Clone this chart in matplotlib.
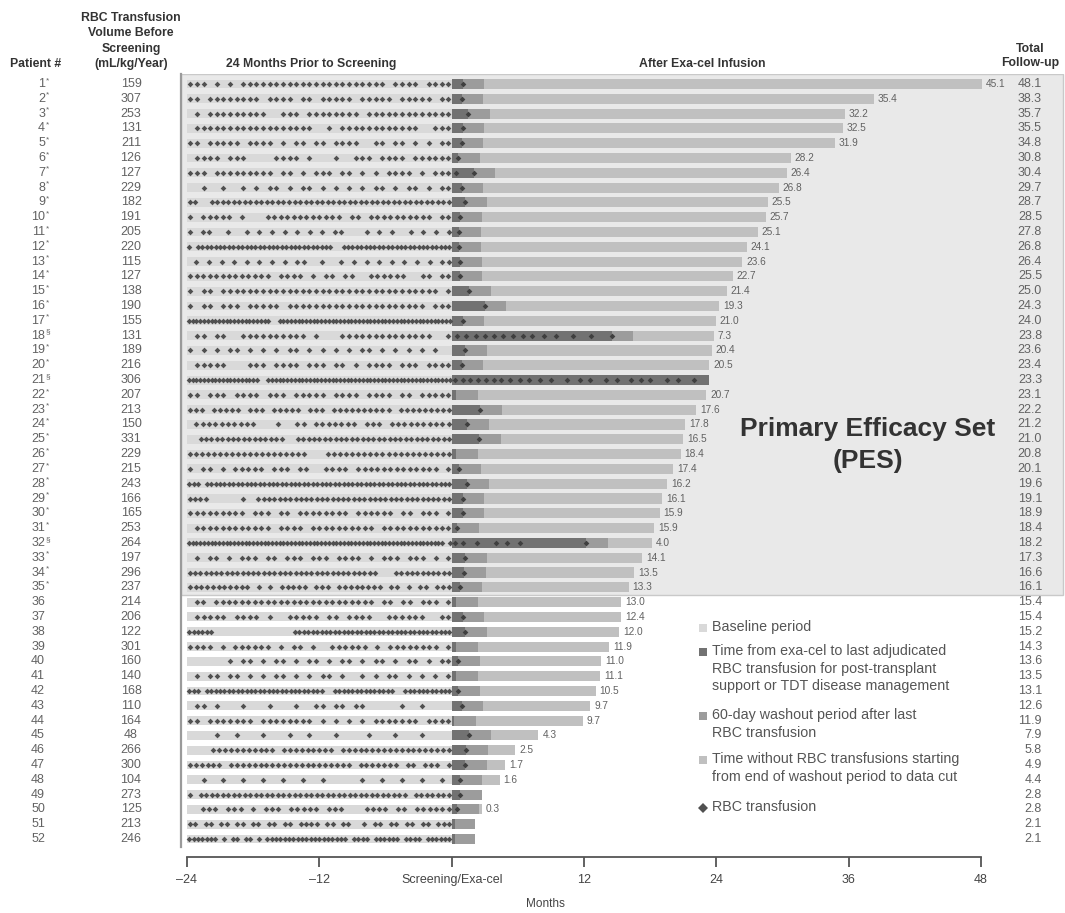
import matplotlib
matplotlib.use("Agg")
import matplotlib.pyplot as plt
from matplotlib import transforms
from matplotlib.lines import Line2D
from matplotlib.patches import Rectangle

plt.rcParams['font.family'] = ['Liberation Sans', 'DejaVu Sans']

# ---------------- data ----------------
patients = list(range(1, 53))
notes = (['*'] * 17 + ['§'] + ['*'] * 2 + ['§'] + ['*'] * 10 + ['§'] + ['*'] * 3 + [''] * 17)

rbc_volume = [159, 307, 253, 131, 211, 126, 127, 229, 182, 191,
              205, 220, 115, 127, 138, 190, 155, 131, 189, 216,
              306, 207, 213, 150, 331, 229, 215, 243, 166, 165,
              253, 264, 197, 296, 237, 214, 206, 122, 301, 160,
              140, 168, 110, 164, 48, 266, 300, 104, 273, 125,
              213, 246]

followup = [48.1, 38.3, 35.7, 35.5, 34.8, 30.8, 30.4, 29.7, 28.7, 28.5,
            27.8, 26.8, 26.4, 25.5, 25.0, 24.3, 24.0, 23.8, 23.6, 23.4,
            23.3, 23.1, 22.2, 21.2, 21.0, 20.8, 20.1, 19.6, 19.1, 18.9,
            18.4, 18.2, 17.3, 16.6, 16.1, 15.4, 15.4, 15.2, 14.3, 13.6,
            13.5, 13.1, 12.6, 11.9, 7.9, 5.8, 4.9, 4.4, 2.8, 2.8,
            2.1, 2.1]

# months without RBC transfusion after washout (label on bar)
free_months = [45.1, 35.4, 32.2, 32.5, 31.9, 28.2, 26.4, 26.8, 25.5, 25.7,
               25.1, 24.1, 23.6, 22.7, 21.4, 19.3, 21.0, 7.3, 20.4, 20.5,
               None, 20.7, 17.6, 17.8, 16.5, 18.4, 17.4, 16.2, 16.1, 15.9,
               15.9, 4.0, 14.1, 13.5, 13.3, 13.0, 12.4, 12.0, 11.9, 11.0,
               11.1, 10.5, 9.7, 9.7, 4.3, 2.5, 1.7, 1.6, None, 0.3,
               None, None]

# months from exa-cel to last adjudicated RBC transfusion
last_rbc = [1.0, 0.9, 1.5, 1.0, 0.9, 0.6, 2.0, 0.9, 1.2, 0.8,
            0.7, 0.7, 0.8, 0.8, 1.6, 3.0, 1.0, 14.5, 1.2, 0.9,
            23.3, 0.4, 2.6, 1.4, 2.5, 0.4, 0.7, 1.4, 1.0, 1.0,
            0.5, 12.2, 1.2, 1.1, 0.8, 0.4, 1.0, 1.2, 0.4, 0.6,
            0.4, 0.6, 0.9, 0.2, 1.6, 1.3, 1.2, 0.8, 0.8, 0.5,
            0.3, 0.3]

WASHOUT = 60 / 30.44  # 60-day washout in months

# post-infusion RBC transfusions (months) for patients with longer support
post_tx = {
    7: [0.4, 2.0],
    18: [0.5, 1.3, 2.2, 3.0, 3.8, 4.7, 5.6, 6.5, 7.3, 8.4, 9.5, 11.0, 12.6, 14.5],
    21: [0.3, 1.0, 1.7, 2.4, 3.1, 3.8, 4.5, 5.3, 6.2, 7.0, 8.0, 9.0, 10.5, 11.6,
         12.5, 14.0, 15.0, 16.3, 17.2, 18.0, 19.5, 20.5, 22.0],
    32: [0.3, 1.0, 2.3, 4.0, 5.0, 6.2, 12.2],
}

# pre-screening transfusion patterns (24 months, '*' = transfusion in slot)
pre_tx = [
    "***.*.*.**********************.****.****",
    "**.********.****.**.*****.*****.*****.**",
    ".*.*********..***.********.*************",
    ".******************..*.************..***",
    "**.*****.****.*.**.**.****..**.**.*.*.**",
    ".****.***....****.*...*..***.****.******",
    "***.*********.**.*.***.**.*.*.****.*.***",
    "..*..*..*.*.**.*.**.*.*.*.*.**.*.**.*.**",
    "**..********************************************",
    "*.*****.*...************.**.**********.**",
    "*.**..*..*.*.*.*.*.*.*.**...*.*.*..*.*.*.*",
    "*.*******************************..*************************",
    ".*.*.*.*.*.*.*.*.**..*..*.*.*.*.*.*.*.*.**",
    "*************.****.*.**.**..******..**.**",
    "*.**.*********************************.*",
    "*.**.***.*****.*********************.***",
    "**********************..**********************************************",
    ".**.**..**********.*...**************..*",
    "*.*.*.**.*.*.*.**.*.*.*.*.**.*.*.*.*.*..",
    ".*****...***.****.***.**.*.****.***.****",
    "*******************..*************************************************",
    "**.***.****.***.*****.****.****.**.*****",
    "***.*****.***.*****.***.**********.*********",
    ".**********...*..**.*******.***.**********",
    "..****************..*****************************",
    "********************...*********************",
    "*.**.*.*****.***.**..****.*************.*",
    "***.********************************************************",
    "****......*..*************************************",
    "*********.***.**.********.******.**.***.*",
    ".************.****.**********.***********",
    "********************************************************************.*",
    ".*.**.*.***.**.***.***.****.*.***.***.*.*",
    "************************************...***********",
    "***********.*.*.*****.***.********.**.*.**.***",
    ".**.*************************.**.**.***.*",
    ".*****.****.*..*****.**.****..******..**",
    "******..................************************************",
    "****.*.******.*.**.*..******.*.********.*",
    "......*.**.*.**.*.**.*.**.*.**.*.**.*.**",
    ".*.**.**.*.*.**.*.*.**.*..*.*.**.*.*.*.*",
    "***.***************************..**************..***********",
    ".**.*...*...*...*..**.**.**.....*..*....",
    "**.*******.********.*.*.*.*.*******.****",
    "....*..*...*...*..*...*....*...*...*....",
    "....***********.*********.*******************",
    "******.*********************.*******.**.***.*",
    "..*..*..*..*..*..*..*.....*..*..*..*..*.",
    "*.**************************************.*******",
    "..***.***.*.***.*****.***...****.**.******",
    "**.**.**.**.**.**.**.****.**.**..*.**.**.**.**.***",
    "*******.*.**.**.*.*******************.****.******.****.******",
]

xticks = [-24, -12, 0, 12, 24, 36, 48]
xtick_labels = ['\u201324', '\u201312', 'Screening/Exa-cel', '12', '24', '36', '48']

# ---------------- colours ----------------
C_BOX = '#e9e9e9'
C_BASE = '#d9d9d9'
C_DARK = '#727272'
C_WASH = '#9c9c9c'
C_FREE = '#c0c0c0'
C_DIAM = '#505050'
C_TXT = '#626262'
C_HDR = '#333333'

# ---------------- figure ----------------
W, H = 1065, 913
fig = plt.figure(figsize=(W / 100, H / 100), dpi=100)


def fx(px):
    return px / W


def fy(py):
    return 1 - py / H


ax = fig.add_axes([fx(181), fy(857), fx(1065) - fx(181), fy(74) - fy(857)])
ax.set_xlim(-24.544, 55.617)
ax.set_ylim(53.216, 0.3245)

# PES shaded box
ax.add_patch(Rectangle((-24.544, 0.3245), 55.436 + 24.544, 35.55 - 0.3245,
                       facecolor=C_BOX, edgecolor='#c9c9c9', lw=1.0, zorder=0))

BH_BASE = 0.6
BH_POST = 0.68
for i, p in enumerate(patients):
    y = p
    # baseline period
    ax.barh(y, 24, left=-24, height=BH_BASE, color=C_BASE, zorder=1)
    # time to last transfusion
    last = last_rbc[i]
    fu = followup[i]
    ax.barh(y, last, left=0, height=BH_POST, color=C_DARK, zorder=2)
    wash_end = min(last + WASHOUT, fu)
    if wash_end > last:
        ax.barh(y, wash_end - last, left=last, height=BH_POST, color=C_WASH, zorder=2)
    fm = free_months[i]
    if fm is not None:
        start = last + WASHOUT
        ax.barh(y, fm, left=start, height=BH_POST, color=C_FREE, zorder=2)
        ax.text(start + fm + 0.35, y, f"{fm:.1f}", fontsize=7.3, color=C_TXT,
                va='center', ha='left', zorder=4)
    # pre-screening transfusions
    s = pre_tx[i]
    slot = 24 / len(s)
    xs = [-24 + (k + 0.5) * slot for k, ch in enumerate(s) if ch == '*']
    ax.plot(xs, [y] * len(xs), ls='none', marker='D', ms=2.9, color=C_DIAM,
            mew=0, zorder=3)
    # post-infusion transfusions
    pts = post_tx.get(p, [last] if last >= 0.5 else [])
    ax.plot(pts, [y] * len(pts), ls='none', marker='D', ms=2.9, color='#3f3f3f',
            mew=0, zorder=3)

# axes styling
for side in ['top', 'right']:
    ax.spines[side].set_visible(False)
ax.spines['bottom'].set_bounds(-24, 48)
ax.spines['bottom'].set_color('#555555')
ax.spines['bottom'].set_linewidth(1.3)
ax.spines['left'].set_bounds(0.3245, 52.55)
ax.spines['left'].set_color('#9a9a9a')
ax.spines['left'].set_linewidth(1.6)
ax.set_yticks([])
ax.set_xticks(xticks)
ax.set_xticklabels(xtick_labels)
ax.tick_params(axis='x', direction='out', length=7, width=1.3, color='#555555',
               labelsize=9, labelcolor='#444444', pad=5)

# column text (x in figure, y in data)
blend = transforms.blended_transform_factory(fig.transFigure, ax.transData)
for i, p in enumerate(patients):
    ax.text(fx(45), p, str(p), transform=blend, ha='right', va='center',
            fontsize=9, color=C_TXT)
    if notes[i]:
        sup = transforms.offset_copy(blend, fig=fig, x=0.3, y=2.5, units='points')
        ax.text(fx(45), p, notes[i], transform=sup, ha='left', va='center',
                fontsize=6, color=C_TXT)
    ax.text(fx(131), p, str(rbc_volume[i]), transform=blend, ha='center',
            va='center', fontsize=9, color=C_TXT)
    ax.text(fx(1042), p, f"{followup[i]:.1f}", transform=blend, ha='right',
            va='center', fontsize=9, color=C_TXT)

# separator line between patient # and volume
ax.add_line(Line2D([fx(77), fx(77)], [0.55, 52.55], transform=blend,
                   color='#9a9a9a', lw=1.6))

# headers
hdr = dict(fontsize=8.8, fontweight='bold', color=C_HDR, va='center', ha='center')
fig.text(fx(36), fy(64), 'Patient #', **hdr)
fig.text(fx(131), fy(41), 'RBC Transfusion\nVolume Before\nScreening\n(mL/kg/Year)',
         linespacing=1.38, **hdr)
fig.text(fx(311), fy(64), '24 Months Prior to Screening', **hdr)
fig.text(fx(702), fy(64), 'After Exa-cel Infusion', **hdr)
fig.text(fx(1030), fy(56), 'Total\nFollow-up', linespacing=1.25, **hdr)

# PES label
fig.text(fx(868), fy(445), 'Primary Efficacy Set\n(PES)', fontsize=19,
         fontweight='bold', color=C_HDR, ha='center', va='center', linespacing=1.45)

# x label
fig.text(fx(545), fy(904), 'Months', fontsize=8.5, color='#444444',
         ha='center', va='center')

# legend
legend_items = [
    (628, 's', C_BASE, 'Baseline period'),
    (652, 's', C_DARK, 'Time from exa-cel to last adjudicated\nRBC transfusion for post-transplant\nsupport or TDT disease management'),
    (716, 's', C_WASH, '60-day washout period after last\nRBC transfusion'),
    (760, 's', C_FREE, 'Time without RBC transfusions starting\nfrom end of washout period to data cut'),
    (808, 'D', C_DIAM, 'RBC transfusion'),
]
for ypx, mk, col, lab in legend_items:
    fig.add_artist(Line2D([fx(703)], [fy(ypx)], transform=fig.transFigure,
                          marker=mk, ms=6 if mk == 's' else 5.5, color=col, ls='none', mew=0))
    fig.text(fx(712), fy(ypx - 8), lab, fontsize=10.3, color='#555555',
             ha='left', va='top', linespacing=1.32)

fig.savefig('out.png', dpi=100)
